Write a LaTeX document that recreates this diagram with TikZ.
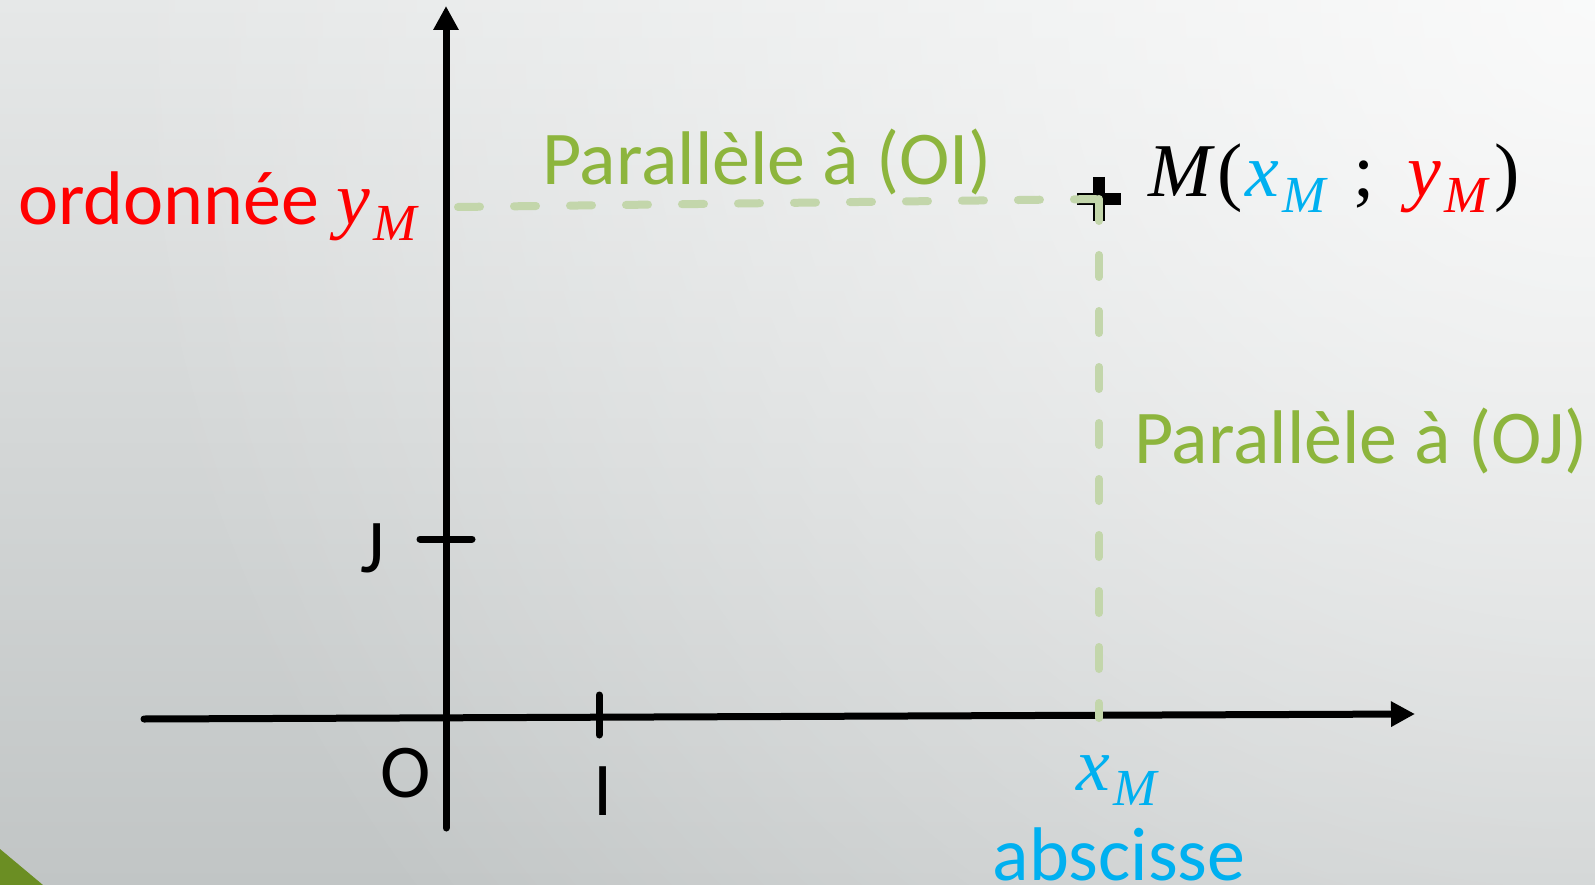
\RequirePackage{fix-cm}
\documentclass[tikz,border=0pt]{standalone}
\usepackage{fontspec}
\setmainfont{Carlito}
\newfontfamily\fontmath{Liberation Serif}
\usepackage{tikz}
\usetikzlibrary{arrows.meta,fadings}

\definecolor{vertpara}{HTML}{8DB53D}
\definecolor{vertpointille}{HTML}{C3D6AB}
\definecolor{bleuabs}{HTML}{00B0F0}
\definecolor{rougeord}{HTML}{FF0000}
\definecolor{fondhaut}{HTML}{E6E8E8}
\definecolor{fondbas}{HTML}{C1C5C5}
\definecolor{vertcoin}{HTML}{6B8E23}

% lettre italique avec indice M
\newcommand{\coordM}[1]{{\fontmath\itshape #1\kern0.04em\raisebox{-0.21em}{\fontsize{52}{52}\selectfont M}}}

\tikzfading[name=halo, inner color=transparent!0, outer color=transparent!100]

\begin{document}
\begin{tikzpicture}[x=1pt, y=-1pt,
  font=\fontsize{76}{80}\selectfont,
  axe/.style={line width=7pt, line cap=round, -{Triangle[length=24pt, width=24pt]}},
  graduation/.style={line width=7pt, line cap=round},
  parallele/.style={line width=8pt, vertpointille, line cap=round, dash pattern=on 22pt off 34pt},
  lab/.style={inner sep=0pt, anchor=base}]
  % fond
  \shade[top color=fondhaut, bottom color=fondbas] (0,0) rectangle (1595,885);
  \begin{scope}
    \clip (0,0) rectangle (1595,885);
    \fill[white, path fading=halo, fill opacity=0.8] (1595,0) circle (1500);
  \end{scope}
  \fill[vertcoin] (0,849) -- (43,885) -- (0,885) -- cycle;
  \useasboundingbox (0,0) rectangle (1595,885);
  % repere
  \coordinate (O) at (446,718);
  \coordinate (xg) at (144,719);
  \coordinate (xd) at (1415,714);
  \coordinate (yb) at (446,828);
  \coordinate (yh) at (446,6);
  \coordinate (I) at (599,715);
  \coordinate (J) at (446,539);
  \coordinate (M) at (1099,199);
  \coordinate (yM) at (458,207);
  \coordinate (xM) at (1099,718);
  \draw[axe] (xg) -- (xd);
  \draw[axe] (yb) -- (yh);
  \draw[graduation] ([yshift=20pt]I) -- ([yshift=-20pt]I);
  \draw[graduation] ([xshift=-26pt]J) -- ([xshift=26pt]J);
  % point M
  \draw[line width=12pt] ([xshift=-22pt]M) -- ([xshift=22pt]M)
    ([yshift=22pt]M) -- ([yshift=-22pt]M);
  \draw[parallele] (yM) -- (M);
  \draw[parallele] (M) -- (xM);
  % textes
  \node[lab, anchor=base west, vertpara] (paraOI) at (542,185) {Parallèle à (OI)};
  \node[lab, anchor=base west, vertpara] (paraOJ) at (1134,463) {Parallèle à (OJ)};
  \node[lab, anchor=base west, rougeord] (ord) at (18,225) {ordonnée \coordM{y}};
  \node[lab, anchor=base west] (coordM) at (1148,197)
    {{\fontmath\itshape M\kern0.08em\upshape(\kern0.04em}\textcolor{bleuabs}{\coordM{x}}\hspace{0.36em}{\fontmath;}\hspace{0.44em}\textcolor{rougeord}{\coordM{y}}{\fontmath\kern0.08em)}};
  \node[lab, bleuabs] (absM) at (1117,790) {\coordM{x}};
  \node[lab, bleuabs] (abscisse) at (1119,880) {abscisse};
  \node[lab] (labO) at (406,797) {O};
  \node[lab] (labI) at (603,815) {I};
  \node[lab] (labJ) at (373,572) {J};
\end{tikzpicture}
\end{document}
